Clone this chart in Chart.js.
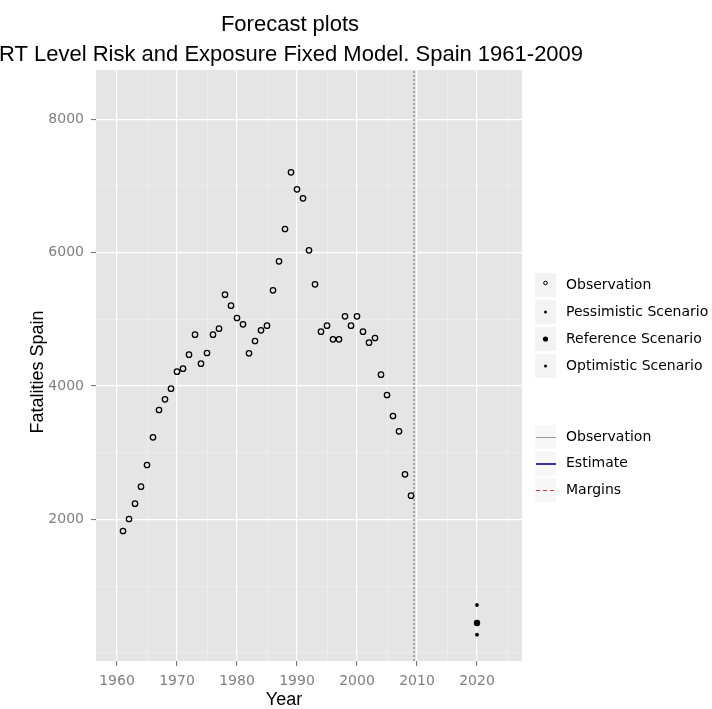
<!DOCTYPE html>
<html>
<head>
<meta charset="utf-8">
<script src="https://cdn.jsdelivr.net/npm/chart.js@4.4.1/dist/chart.umd.min.js"></script>
<style>
  html, body { margin: 0; padding: 0; background: #ffffff; }
  #wrap { width: 712px; height: 709px; position: relative; }
</style>
</head>
<body>
<div id="wrap"><canvas id="c" width="712" height="709"></canvas></div>
<script>
// Observed road fatalities, Spain
const years = [1961, 1962, 1963, 1964, 1965, 1966, 1967, 1968, 1969, 1970,
               1971, 1972, 1973, 1974, 1975, 1976, 1977, 1978, 1979, 1980,
               1981, 1982, 1983, 1984, 1985, 1986, 1987, 1988, 1989, 1990,
               1991, 1992, 1993, 1994, 1995, 1996, 1997, 1998, 1999, 2000,
               2001, 2002, 2003, 2004, 2005, 2006, 2007, 2008, 2009];
const fatalities = [1825, 2005, 2235, 2490, 2815, 3230, 3640, 3800, 3960, 4215,
                    4260, 4470, 4770, 4335, 4495, 4770, 4860, 5370, 5205, 5020,
                    4925, 4490, 4675, 4835, 4905, 5435, 5870, 6355, 7205, 6950,
                    6815, 6035, 5525, 4815, 4905, 4700, 4700, 5045, 4905, 5045,
                    4815, 4650, 4720, 4170, 3865, 3550, 3320, 2675, 2355];

// Scenario forecasts
const forecastYears = [2020];
const pessimistic = [715];
const reference = [445];
const optimistic = [270];

// End of the observed period
const forecastOrigin = [2009.5];

// Axis breaks
const xMajorTicks = [1960, 1970, 1980, 1990, 2000, 2010, 2020];
const xMinorTicks = [1965, 1975, 1985, 1995, 2005, 2015, 2025];
const yMajorTicks = [2000, 4000, 6000, 8000];
const yMinorTicks = [0, 1000, 3000, 5000, 7000];

const xLimits = [1956.5, 2027.5];
const yLimits = [-125, 8740];

const titleLines = ['Forecast plots', 'RT Level Risk and Exposure Fixed Model. Spain 1961-2009'];
const xTitle = 'Year';
const yTitle = 'Fatalities Spain';
const pointLegend = ['Observation', 'Pessimistic Scenario', 'Reference Scenario', 'Optimistic Scenario'];
const lineLegend = ['Observation', 'Estimate', 'Margins'];

const toPoints = (xs, ys) => xs.map((x, i) => ({ x: x, y: ys[i] }));

const PANEL_BG = '#e5e5e5';
const MAJOR_GRID = '#ffffff';
const MINOR_GRID = '#f2f2f2';
const TICK_MARK = '#6a6a6a';
const TICK_TEXT = '#7f7f7f';

function isMajor(list, v) { return list.indexOf(v) !== -1; }

const decorations = {
  id: 'decorations',
  beforeDraw(chart) {
    const { ctx, chartArea: a } = chart;
    ctx.save();
    ctx.fillStyle = PANEL_BG;
    ctx.fillRect(a.left, a.top, a.right - a.left, a.bottom - a.top);
    ctx.restore();
  },
  afterDraw(chart) {
    const ctx = chart.ctx;
    ctx.save();
    // main title
    ctx.fillStyle = '#000000';
    ctx.textAlign = 'center';
    ctx.textBaseline = 'middle';
    ctx.font = '22px "Liberation Sans", Arial, sans-serif';
    ctx.fillText(titleLines[0], 290, 25);
    ctx.fillText(titleLines[1], 291, 55);

    // axis titles
    ctx.font = '18px "Liberation Sans", Arial, sans-serif';
    ctx.fillText(xTitle, 284, 700);
    ctx.save();
    ctx.translate(38, 372);
    ctx.rotate(-Math.PI / 2);
    ctx.fillText(yTitle, 0, 0);
    ctx.restore();

    // legend: point symbols
    const keyX = 535, keyW = 21, keyH = 25, textX = 566;
    ctx.font = '14px "DejaVu Sans", Verdana, sans-serif';
    ctx.textAlign = 'left';
    const pointRows = [285, 312, 339, 366];
    pointRows.forEach((y, i) => {
      ctx.fillStyle = '#f3f3f3';
      ctx.fillRect(keyX, y - keyH / 2 + 0.5, keyW, keyH - 1);
      ctx.beginPath();
      if (i === 0) {
        ctx.arc(keyX + keyW / 2, y - 2, 1.8, 0, Math.PI * 2);
        ctx.strokeStyle = '#000'; ctx.lineWidth = 1; ctx.stroke();
      } else {
        const r = i === 2 ? 2.6 : 1.5;
        ctx.arc(keyX + keyW / 2, y, r, 0, Math.PI * 2);
        ctx.fillStyle = '#000'; ctx.fill();
      }
      ctx.fillStyle = '#000';
      ctx.fillText(pointLegend[i], textX, y);
    });

    // legend: line types
    const lineRows = [437, 463.5, 490];
    const lineStyles = [
      { color: '#9a9a9a', width: 1, dash: [] },
      { color: '#00008b', width: 1.6, dash: [] },
      { color: '#e03030', width: 1, dash: [4, 3] }
    ];
    lineRows.forEach((y, i) => {
      ctx.fillStyle = '#f7f7f7';
      ctx.fillRect(keyX, y - keyH / 2 + 0.5, keyW, keyH - 1);
      const s = lineStyles[i];
      ctx.beginPath();
      ctx.setLineDash(s.dash);
      ctx.strokeStyle = s.color;
      ctx.lineWidth = s.width;
      ctx.moveTo(keyX + 1, y + 0.5);
      ctx.lineTo(keyX + keyW, y + 0.5);
      ctx.stroke();
      ctx.setLineDash([]);
      ctx.fillStyle = '#000';
      ctx.fillText(lineLegend[i], textX, y);
    });
    ctx.restore();
  }
};

function gridColor(major) {
  return ctx => isMajor(major, ctx.tick && ctx.tick.value) ? MAJOR_GRID : MINOR_GRID;
}
function gridWidth(major) {
  return ctx => isMajor(major, ctx.tick && ctx.tick.value) ? 1.2 : 0.6;
}
function tickColor(major) {
  return ctx => isMajor(major, ctx.tick && ctx.tick.value) ? TICK_MARK : 'rgba(0,0,0,0)';
}

new Chart(document.getElementById('c'), {
  type: 'scatter',
  data: {
    datasets: [
      {
        label: 'Forecast origin',
        type: 'line',
        data: [{ x: forecastOrigin[0], y: yLimits[0] }, { x: forecastOrigin[0], y: yLimits[1] }],
        borderColor: '#a4a4a4',
        borderWidth: 2,
        borderDash: [2, 2],
        pointRadius: 0,
        showLine: true,
        order: 10
      },
      {
        label: pointLegend[0],
        data: toPoints(years, fatalities),
        pointStyle: 'circle',
        pointRadius: 2.7,
        borderWidth: 1.3,
        borderColor: '#000000',
        backgroundColor: 'rgba(0,0,0,0)',
        order: 1
      },
      {
        label: pointLegend[1],
        data: toPoints(forecastYears, pessimistic),
        pointRadius: 1.9,
        borderWidth: 0,
        backgroundColor: '#000000',
        order: 1
      },
      {
        label: pointLegend[2],
        data: toPoints(forecastYears, reference),
        pointRadius: 3.2,
        borderWidth: 0,
        backgroundColor: '#000000',
        order: 1
      },
      {
        label: pointLegend[3],
        data: toPoints(forecastYears, optimistic),
        pointRadius: 1.9,
        borderWidth: 0,
        backgroundColor: '#000000',
        order: 1
      }
    ]
  },
  options: {
    responsive: false,
    animation: false,
    devicePixelRatio: 1,
    layout: { padding: { top: 70, right: 190, left: 0, bottom: 0 } },
    plugins: {
      legend: { display: false },
      title: { display: false },
      tooltip: { enabled: false }
    },
    scales: {
      x: {
        type: 'linear',
        min: xLimits[0],
        max: xLimits[1],
        afterBuildTicks: s => {
          s.ticks = xMinorTicks.concat(xMajorTicks).sort((a, b) => a - b).map(v => ({ value: v }));
        },
        afterFit: s => { s.height = 48; },
        border: { display: false },
        grid: {
          color: gridColor(xMajorTicks),
          lineWidth: gridWidth(xMajorTicks),
          tickColor: tickColor(xMajorTicks),
          tickLength: 5,
          tickWidth: 1
        },
        ticks: {
          autoSkip: false,
          maxRotation: 0,
          padding: 7,
          color: TICK_TEXT,
          font: { family: '"DejaVu Sans", Verdana, sans-serif', size: 14 },
          callback: v => isMajor(xMajorTicks, v) ? String(v) : ''
        }
      },
      y: {
        type: 'linear',
        min: yLimits[0],
        max: yLimits[1],
        afterBuildTicks: s => {
          s.ticks = yMinorTicks.concat(yMajorTicks).sort((a, b) => a - b).map(v => ({ value: v }));
        },
        afterFit: s => { s.width = 96; },
        border: { display: false },
        grid: {
          color: gridColor(yMajorTicks),
          lineWidth: gridWidth(yMajorTicks),
          tickColor: tickColor(yMajorTicks),
          tickLength: 5,
          tickWidth: 1
        },
        ticks: {
          autoSkip: false,
          padding: 7,
          color: TICK_TEXT,
          font: { family: '"DejaVu Sans", Verdana, sans-serif', size: 14 },
          callback: v => isMajor(yMajorTicks, v) ? String(v) : ''
        }
      }
    }
  },
  plugins: [decorations]
});
</script>
</body>
</html>
